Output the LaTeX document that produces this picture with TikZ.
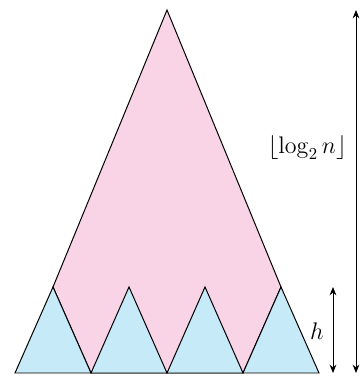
\documentclass[tikz,border=0pt]{standalone}
\usepackage{amsmath}
\usepackage{tikz}
\usetikzlibrary{arrows.meta}
\definecolor{top}{HTML}{F9D3E6}
\definecolor{leaf}{HTML}{C6EAF8}

\begin{document}
\begin{tikzpicture}[
  x=0.6pt, y=0.6pt,
  tri/.style={draw, semithick, line join=miter, fill=#1},
  arr/.style={{Stealth[length=5pt,width=4pt]}-{Stealth[length=5pt,width=4pt]}, line width=0.5pt},
  lab/.style={anchor=east, inner sep=0pt, font=\Large}
]
\useasboundingbox (0,0) rectangle (363,376);
% subtrees of height h
\foreach \i in {0,1,2,3} {
  \coordinate (s\i) at (15+76*\i,3);
  \coordinate (t\i) at (53+76*\i,89);
  \coordinate (e\i) at (91+76*\i,3);
}
% upper part of the tree
\coordinate (apex) at (167,366);
\draw[tri=top] (t0) -- (apex) -- (t3) -- (s3) -- (e0) -- cycle;
\foreach \i in {0,1,2,3} {
  \draw[tri=leaf] (s\i) -- (t\i) -- (e\i) -- cycle;
}
% heights
\coordinate (lt) at (356,366);
\coordinate (lb) at (356,3);
\coordinate (ht) at (333,89);
\coordinate (hb) at (333,3);
\draw[arr] (lt) -- (lb);
\draw[arr] (ht) -- (hb);
\node[lab] (loglab) at (347,228) {$\lfloor \log_2 n \rfloor$};
\node[lab] (hlab) at (324,45) {$h$};
\end{tikzpicture}
\end{document}
